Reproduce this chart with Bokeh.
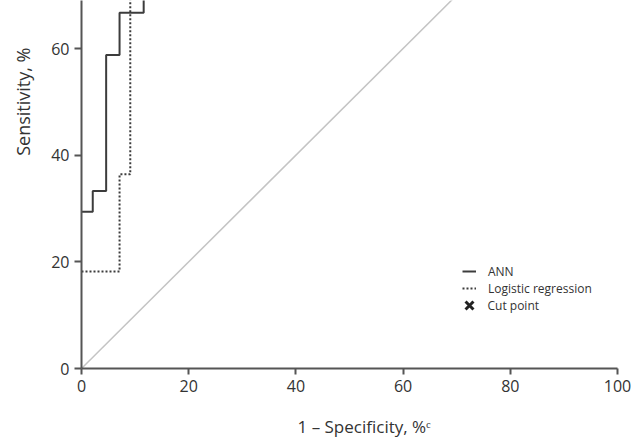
from bokeh.plotting import figure
from bokeh.models import Range1d, FixedTicker, Legend, LegendItem, Title
from bokeh.embed import file_html
from bokeh.resources import INLINE

# ROC data (1 - specificity, sensitivity), in %
ann_fpr = [0, 2.1, 4.6, 7.1, 11.6]
ann_tpr = [29.4, 33.3, 58.8, 66.7, 80.0]
lr_fpr = [0, 7.1, 9.1]
lr_tpr = [18.2, 36.4, 80.0]
chance_x = [0, 100]
chance_y = [0, 100]
cut_fpr = [float("nan")]   # cut points lie outside the visible crop
cut_tpr = [float("nan")]
x_ticks = [0, 20, 40, 60, 80, 100]
y_ticks = [0, 20, 40, 60]

FONT = "Open Sans"
TXT = "#333333"
AX = "#555555"
LINE = "#3c3c3c"

p = figure(width=632, height=437, output_backend="svg", toolbar_location=None,
           x_range=Range1d(0, 100), y_range=Range1d(0, 69),
           min_border_left=81, min_border_right=15, min_border_top=0, min_border_bottom=69)
p.outline_line_color = None
p.grid.visible = False
p.background_fill_color = "white"

for ax, ticks in ((p.xaxis, x_ticks), (p.yaxis, y_ticks)):
    ax.ticker = FixedTicker(ticks=ticks)
    ax.minor_tick_line_color = None
    ax.axis_line_width = 2
    ax.axis_line_color = AX
    ax.major_tick_line_color = AX
    ax.major_tick_line_width = 2
    ax.major_tick_in = 0
    ax.major_label_text_font = FONT
    ax.major_label_text_font_size = "16px"
    ax.major_label_text_color = TXT
    ax.axis_label = " "          # spacer between tick labels and the title
    ax.axis_label_text_font_size = "1px"
p.xaxis.major_tick_out = 6
p.yaxis.major_tick_out = 7
p.xaxis.major_label_standoff = 5
p.yaxis.major_label_standoff = 5
p.xaxis.axis_label_standoff = 14
p.yaxis.axis_label_standoff = 10

p.line(chance_x, chance_y, line_color="#c4c4c4", line_width=1.5)
r_lr = p.step(lr_fpr, lr_tpr, mode="after", line_color=LINE, line_width=2, line_dash="2 2")
r_ann = p.step(ann_fpr, ann_tpr, mode="after", line_color=LINE, line_width=2)
r_cut = p.scatter(cut_fpr, cut_tpr, marker="x", size=10, line_width=3, line_color="#222222")

legend_style = dict(padding=0, margin=0, spacing=0, label_text_font=FONT,
                    label_text_font_size="12px", label_text_color=TXT, label_height=14,
                    border_line_color=None, background_fill_alpha=0)
for item, loc, gw, gh, ls in (
        (LegendItem(label="ANN", renderers=[r_ann]), (381, 87), 14, 20, 12),
        (LegendItem(label="Logistic regression", renderers=[r_lr]), (381, 70), 14, 20, 12),
        (LegendItem(label="Cut point", renderers=[r_cut]), (373.5, 49), 28, 28, 5)):
    p.add_layout(Legend(items=[item], location=loc, glyph_width=gw, glyph_height=gh,
                        label_standoff=ls, **legend_style), "center")

p.add_layout(Title(text="1 – Specificity, %ᶜ", align="left", offset=216,
                   text_font=FONT, text_font_size="17px", text_font_style="normal",
                   text_color=TXT, standoff=0), "below")
p.add_layout(Title(text="Sensitivity, %", align="right", offset=47,
                   text_font=FONT, text_font_size="18px", text_font_style="normal",
                   text_color=TXT, standoff=0), "left")

open("out.html", "w").write(file_html(p, INLINE))
